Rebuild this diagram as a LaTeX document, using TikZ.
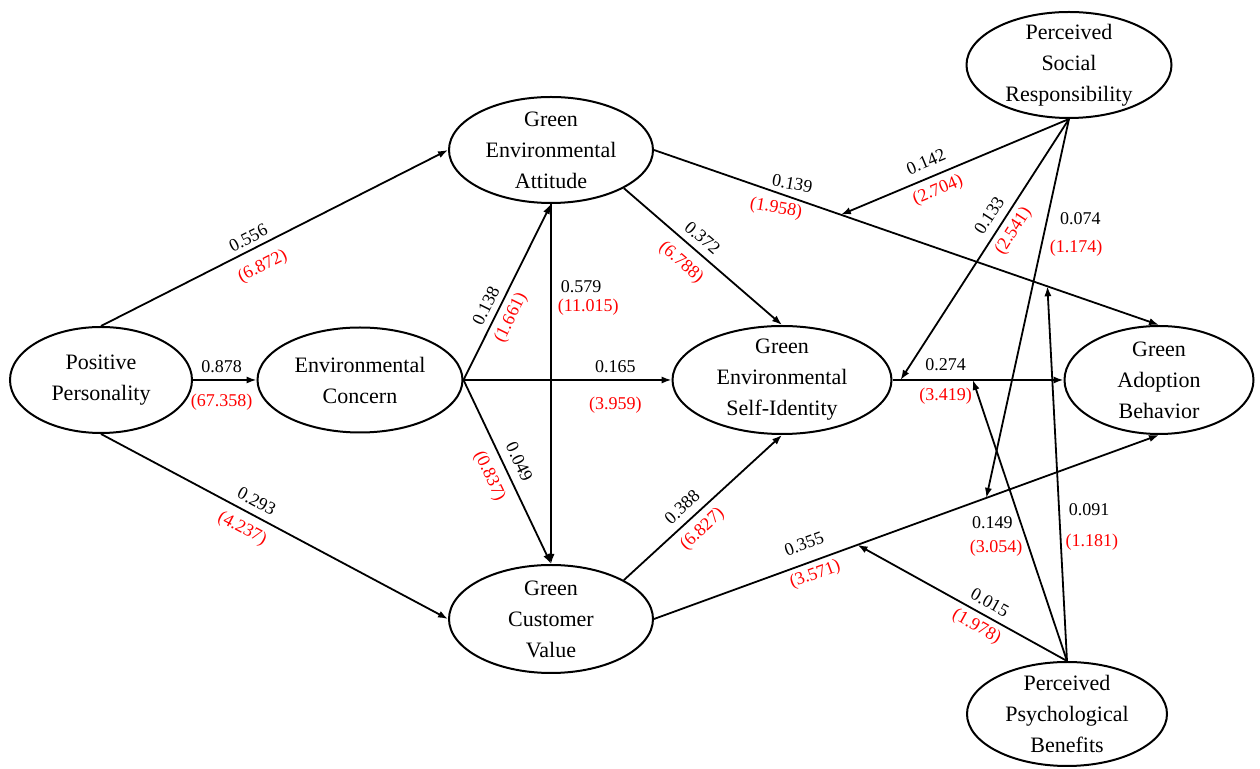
\documentclass[tikz,border=0pt]{standalone}
\usepackage{fontspec}
\setmainfont{Liberation Serif}
\usepackage{color}
\usepackage{tikz}
\usetikzlibrary{shapes.geometric,arrows.meta}
\definecolor{tred}{rgb}{1,0,0}

\begin{document}
\begin{tikzpicture}[x=0.5pt, y=-0.5pt, latent/.style = {shape=ellipse, draw, line width=1pt, align=center, inner sep=-6pt, minimum width=102pt, minimum height=53pt, font=\fontsize{11}{15.5}\selectfont}, link/.style = {draw, line width=0.9pt, -{Latex[length=5pt,width=3.6pt]}}, coef/.style = {font=\fontsize{9}{10}\selectfont, inner sep=0pt}, tval/.style = {coef, text=tred}]
	\useasboundingbox (0,0) rectangle (1260,769);
	\node[latent, minimum width=91pt] (pp) at (101,380) {Positive\\Personality};
	\node[latent, minimum width=102.5pt, minimum height=52.5pt] (ec) at (360,380) {Environmental\\Concern};
	\node[latent] (gea) at (551,150) {Green\\Environmental\\Attitude};
	\node[latent, minimum height=54pt] (gcv) at (551,619) {Green\\Customer\\Value};
	\node[latent, minimum width=109.5pt, minimum height=54pt] (gesi) at (782,380) {Green\\Environmental\\Self-Identity};
	\node[latent, minimum width=94.5pt, minimum height=54pt] (gab) at (1159,380) {Green\\Adoption\\Behavior};
	\node[latent, minimum width=102.5pt] (psr) at (1069,65) {Perceived\\Social\\Responsibility};
	\node[latent, minimum width=100pt, minimum height=52pt] (ppb) at (1067,714) {Perceived\\Psychological\\Benefits};
	\draw[link] (pp.north) -- node[coef, sloped, above=2.5pt, pos=0.44] (b1) {0.556} node[tval, sloped, below=5.6pt, pos=0.44] (t1) {(6.872)} (gea.west);
	\draw[link] (pp.east) -- node[coef, above=3.4pt, pos=0.45] (b2) {0.878} node[tval, below=6.6pt, pos=0.45] (t2) {(67.358)} (ec.west);
	\draw[link] (pp.south) -- node[coef, sloped, above=3.4pt, pos=0.43] (b3) {0.293} node[tval, sloped, below=4.1pt, pos=0.43] (t3) {(4.237)} (gcv.west);
	\draw[link] (ec.east) -- node[coef, sloped, above=3pt, pos=0.39] (b4) {0.138} node[tval, sloped, below=3pt, pos=0.39] (t4) {(1.661)} (gea.south);
	\draw[link] (ec.east) -- node[coef, above=3pt, pos=0.73] (b5) {0.165} node[tval, below=8pt, pos=0.73] (t5) {(3.959)} (gesi.west);
	\draw[link] (ec.east) -- node[coef, sloped, above=4.2pt, pos=0.48] (b6) {0.049} node[tval, sloped, below=4.5pt, pos=0.48] (t6) {(0.837)} (gcv.north);
	\draw[link] (gea.south) -- node[coef, right=4.5pt, pos=0.23] (b7) {0.579} node[tval, right=3pt, pos=0.287] (t7) {(11.015)} (gcv.north);
	\draw[link] (gea.south east) -- node[coef, sloped, above=3.4pt, pos=0.44] (b8) {0.372} node[tval, sloped, below=5pt, pos=0.44] (t8) {(6.788)} (gesi.north);
	\draw[link] (gea.east) -- node[coef, rotate=-10, above=3.3pt, pos=0.269] (b9) {0.139} node[tval, rotate=-10, below=3.3pt, pos=0.247] (t9) {(1.958)} coordinate[pos=0.37] (m1) coordinate[pos=0.779] (m6) (gab.north);
	\draw[link] (gesi.east) -- node[coef, above=4pt, pos=0.31] (b10) {0.274} node[tval, below=3.7pt, pos=0.31] (t10) {(3.419)} coordinate[pos=0.047] (m2) coordinate[pos=0.47] (m5) (gab.west);
	\draw[link] (gcv.north east) -- node[coef, sloped, above=3.7pt, pos=0.43] (b11) {0.388} node[tval, sloped, below=3.4pt, pos=0.43] (t11) {(6.827)} (gesi.south);
	\draw[link] (gcv.east) -- node[coef, sloped, above=6pt, pos=0.31] (b12) {0.355} node[tval, sloped, below=2.3pt, pos=0.31] (t12) {(3.571)} coordinate[pos=0.658] (m3) coordinate[pos=0.403] (m4) (gab.south);
	\draw[link] (psr.south) -- node[coef, sloped, above=4.4pt, pos=0.6] (b13) {0.142} node[tval, sloped, below=3.1pt, pos=0.6] (t13) {(2.704)} (m1);
	\draw[link] (psr.south) -- node[coef, sloped, above=3.9pt, pos=0.4] (b14) {0.133} node[tval, sloped, below=2.6pt, pos=0.4] (t14) {(2.541)} (m2);
	\draw[link] (psr.south) -- node[coef, right=6pt, pos=0.264] (b15) {0.074} node[tval, right=4pt, pos=0.34] (t15) {(1.174)} (m3);
	\draw[link] (ppb.north) -- node[coef, sloped, above=3.3pt, pos=0.4] (b16) {0.015} node[tval, sloped, below=2.5pt, pos=0.4] (t16) {(1.978)} (m4);
	\draw[link] (ppb.north) -- node[coef, left=3.5pt, pos=0.493] (b17) {0.149} node[tval, left=3pt, pos=0.4] (t17) {(3.054)} (m5);
	\draw[link] (ppb.north) -- node[coef, right=4.5pt, pos=0.405] (b18) {0.091} node[tval, right=2pt, pos=0.317] (t18) {(1.181)} (m6);
\end{tikzpicture}
\end{document}
